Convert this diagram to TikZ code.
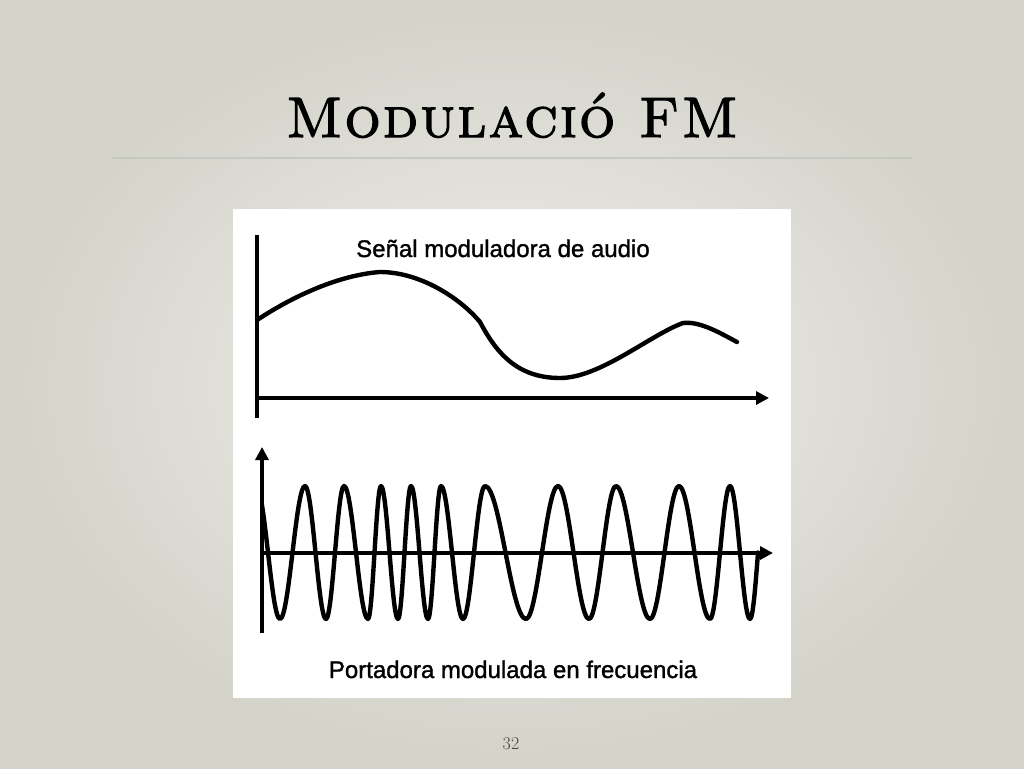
\documentclass[tikz,border=0pt]{standalone}
\usepackage{fontspec}
\newfontfamily\arialfont[FakeBold=1.3]{Liberation Sans}
\newfontfamily\titlefont[LetterSpace=3.5,FakeBold=2]{lmromancaps10-regular.otf}
\usetikzlibrary{arrows.meta}
\definecolor{bgin}{RGB}{238,238,234}
\definecolor{bgout}{RGB}{212,211,202}
\definecolor{rulecol}{RGB}{200,200,194}
\definecolor{numcol}{RGB}{70,70,70}
\tikzset{
  axis/.style={line width=3.8pt},
  arrowaxis/.style={axis,-{Triangle[length=13pt,width=13pt]}},
  curve/.style={line width=4.4pt,line cap=round,line join=round},
  label/.style={font=\arialfont\fontsize{24}{28}\selectfont,inner sep=0pt,anchor=base,xscale=1.0},
}
\begin{document}
\begin{tikzpicture}[x=1pt,y=-1pt]
\useasboundingbox (0,0) rectangle (1024,768);
\shade[inner color=bgin,outer color=bgout] (0,0) rectangle (1024,768);
% title
\node[inner sep=0pt,anchor=base] (title) at (512,137)
  {\titlefont\fontsize{57}{60}\selectfont Modulació FM};
\coordinate (rl) at (112,158);
\coordinate (rr) at (912,158);
\draw[rulecol,line width=1.5pt] (rl) -- (rr);
% image
\fill[white] (233,209) rectangle (791,698);
% top plot
\coordinate (ta) at (257,235);
\coordinate (tb) at (257,418);
\coordinate (tc) at (255,398);
\coordinate (td) at (769,398);
\draw[axis] (ta) -- (tb);
\draw[arrowaxis] (tc) -- (td);
\node[label] (toplabel) at (503,257) {Señal moduladora de audio};
\draw[curve] (257,320) .. controls (295,295) and (340,275) .. (380,272)
  .. controls (420,272) and (460,298) .. (480,322)
  .. controls (495,350) and (515,378) .. (560,378)
  .. controls (600,378) and (650,335) .. (683,323)
  .. controls (700,321) and (720,333) .. (737,342);
% bottom plot
\coordinate (ba) at (262,633);
\coordinate (bb) at (262,447);
\coordinate (bc) at (260,553);
\coordinate (bd) at (773,553);
\draw[arrowaxis] (ba) -- (bb);
\draw[arrowaxis] (bc) -- (bd);
\begin{scope}
\clip (261,400) rectangle (800,650);
\draw[curve] (256,486) cos (268,552.5) sin (280,619) cos (292.5,552.5) sin (305,486)
  cos (315.5,552.5) sin (326,619) cos (335,552.5) sin (344,486)
  cos (356,552.5) sin (368,619) cos (374.5,552.5) sin (381,486)
  cos (389.5,552.5) sin (398,619) cos (404.5,552.5) sin (411,486)
  cos (419.5,552.5) sin (428,619) cos (434.5,552.5) sin (441,486)
  cos (452,552.5) sin (463,619) cos (474,552.5) sin (485,486)
  cos (505.5,552.5) sin (526,619) cos (542,552.5) sin (558,486)
  cos (573.5,552.5) sin (589,619) cos (602.5,552.5) sin (616,486)
  cos (633,552.5) sin (650,619) cos (664.5,552.5) sin (679,486)
  cos (694.5,552.5) sin (710,619) cos (720,552.5) sin (730,486)
  cos (740,552.5) sin (750,619) cos (758,552.5);
\end{scope}
\node[label] (botlabel) at (513,678) {Portadora modulada en frecuencia};
% page number
\node[inner sep=0pt,anchor=base,text=numcol] (pagenum) at (511,749) {\fontsize{18}{20}\selectfont 32};
\end{tikzpicture}
\end{document}
